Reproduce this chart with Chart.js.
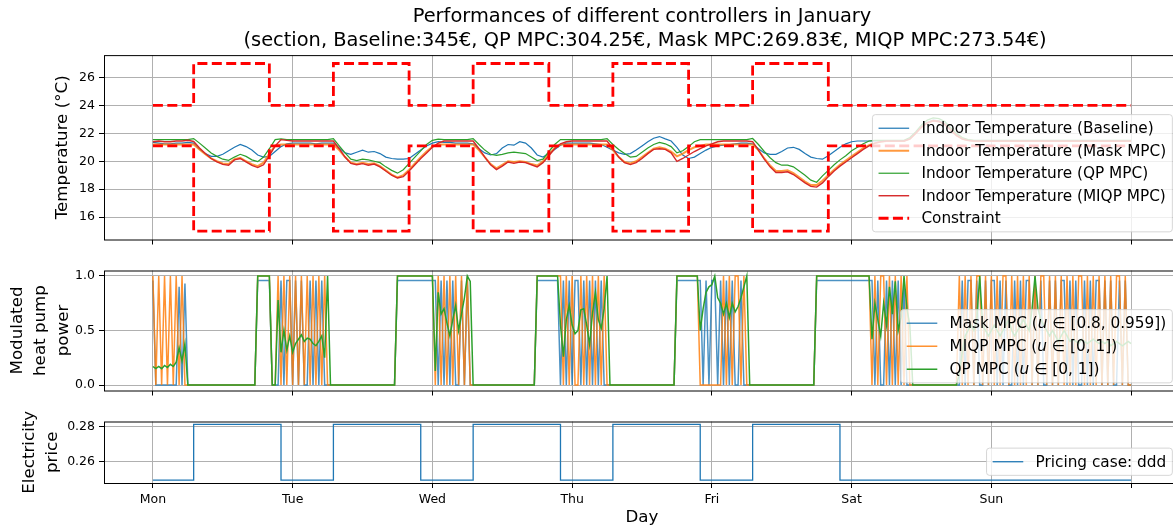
<!DOCTYPE html>
<html>
<head>
<meta charset="utf-8">
<script src="https://cdn.jsdelivr.net/npm/chart.js@4.4.0/dist/chart.umd.min.js"></script>
<style>
  html, body { margin: 0; padding: 0; background: #fff; overflow: hidden; }
  canvas { position: absolute; left: 0; }
</style>
</head>
<body>
<canvas id="tempChart" width="1180" height="251" style="top:0px"></canvas>
<canvas id="powerChart" width="1180" height="143" style="top:259px"></canvas>
<canvas id="priceChart" width="1180" height="121" style="top:410px"></canvas>
<script>
// x axis: hours since Monday 00:00
const dayTicks = [0, 24, 48, 72, 96, 120, 144, 168];
const dayLabels = ["Mon", "Tue", "Wed", "Thu", "Fri", "Sat", "Sun", ""];
const tempTicks = [16, 18, 20, 22, 24, 26];
const powerTicks = [0, 0.5, 1];
const priceTicks = [0.26, 0.28];

const titleLines = [
  "Performances of different controllers in January",
  " (section, Baseline:345€, QP MPC:304.25€, Mask MPC:269.83€, MIQP MPC:273.54€)",
];

// hourly indoor temperatures (h = 0 .. 168)
const baselineTemp = [
  21.35,21.3,21.25,21.25,21.3,21.3,21.35,21.3,
  20.85,20.55,20.35,20.35,20.5,20.75,21.0,21.2,
  21.05,20.8,20.45,20.3,20.35,20.7,21.05,21.25,
  21.3,21.3,21.3,21.3,21.25,21.3,21.3,21.3,
  20.95,20.6,20.5,20.65,20.8,20.65,20.7,20.55,
  20.3,20.2,20.15,20.15,20.2,20.5,20.8,21.1,
  21.3,21.4,21.35,21.35,21.3,21.3,21.3,21.25,
  20.9,20.6,20.45,20.55,20.95,21.2,21.15,21.4,
  21.3,20.95,20.45,20.3,20.55,20.85,21.15,21.3,
  21.3,21.3,21.3,21.3,21.25,21.2,21.0,20.8,
  20.6,20.5,20.55,20.8,21.1,21.4,21.65,21.77,
  21.6,21.45,21.0,20.45,20.2,20.3,20.55,20.8,
  21.0,21.1,21.15,21.2,21.25,21.3,21.3,21.25,
  20.9,20.6,20.5,20.5,20.7,20.95,21.0,20.85,
  20.55,20.3,20.2,20.15,20.4,20.7,21.0,21.25,
  21.4,21.45,21.45,21.45,21.45,21.45,21.45,21.45,
  21.45,21.45,21.6,22.0,22.5,22.8,22.95,22.9,
  22.7,22.3,21.9,21.6,21.5,21.45,21.45,21.45,
  21.45,21.45,21.45,21.45,21.45,21.45,21.45,21.45,
  21.45,21.45,21.45,21.45,21.45,21.45,21.45,21.45,
  21.45,21.45,21.45,21.45,21.45,21.45,21.45,21.45,
  21.45,
];
const maskTemp = [
  21.2,21.2,21.2,21.2,21.2,21.2,21.2,21.2,
  20.85,20.5,20.2,20.0,19.85,19.8,20.15,20.25,
  20.0,19.8,19.65,19.9,20.55,21.1,21.2,21.2,
  21.2,21.2,21.2,21.2,21.2,21.2,21.2,21.2,
  20.8,20.3,19.9,19.8,19.9,19.8,19.85,19.65,
  19.35,19.05,18.85,19.0,19.4,19.85,20.3,20.7,
  21.05,21.2,21.2,21.2,21.2,21.2,21.2,21.2,
  20.8,20.3,19.8,19.5,19.75,20.0,19.95,20.0,
  19.95,19.8,19.7,20.0,20.5,20.95,21.2,21.2,
  21.2,21.2,21.2,21.2,21.2,21.2,21.2,20.8,
  20.3,19.95,19.85,20.0,20.3,20.6,20.9,21.0,
  20.9,20.7,20.35,20.55,20.8,21.0,21.1,21.2,
  21.2,21.2,21.2,21.2,21.2,21.2,21.2,21.2,
  20.8,20.2,19.7,19.3,19.3,19.35,19.15,18.85,
  18.55,18.3,18.3,18.6,19.0,19.4,19.75,20.05,
  20.35,20.65,20.95,21.15,21.3,21.4,21.45,21.45,
  21.45,21.45,21.6,22.0,22.45,22.75,22.9,22.85,
  22.65,22.25,21.85,21.6,21.5,21.45,21.45,21.45,
  21.45,21.45,21.45,21.45,21.45,21.45,21.45,21.45,
  21.45,21.45,21.45,21.45,21.45,21.45,21.45,21.45,
  21.45,21.45,21.45,21.45,21.45,21.45,21.45,21.45,
  21.45,
];
const qpTemp = [
  21.55,21.55,21.55,21.55,21.55,21.55,21.55,21.62,
  21.3,20.95,20.6,20.35,20.15,20.07,20.3,20.5,
  20.35,20.1,19.97,20.3,20.9,21.55,21.6,21.55,
  21.55,21.55,21.55,21.55,21.55,21.55,21.55,21.62,
  21.1,20.6,20.15,20.05,20.15,20.1,20.0,19.9,
  19.6,19.35,19.15,19.4,19.85,20.3,20.75,21.2,
  21.5,21.58,21.55,21.55,21.55,21.55,21.55,21.62,
  21.2,20.8,20.5,20.42,20.5,20.6,20.65,20.6,
  20.55,20.3,20.05,20.15,20.7,21.2,21.55,21.55,
  21.55,21.55,21.55,21.55,21.55,21.55,21.62,21.2,
  20.85,20.55,20.3,20.35,20.65,20.95,21.2,21.35,
  21.25,21.05,20.6,20.75,21.05,21.4,21.55,21.55,
  21.55,21.55,21.55,21.55,21.55,21.55,21.55,21.63,
  21.2,20.7,20.25,19.9,19.72,19.72,19.6,19.3,
  19.0,18.65,18.5,18.95,19.35,19.75,20.1,20.4,
  20.75,21.0,21.25,21.45,21.5,21.5,21.5,21.5,
  21.5,21.5,21.7,22.1,22.6,22.95,23.1,23.05,
  22.85,22.4,22.0,21.7,21.55,21.5,21.5,21.5,
  21.5,21.5,21.5,21.5,21.5,21.5,21.5,21.5,
  21.5,21.5,21.5,21.5,21.5,21.5,21.5,21.5,
  21.5,21.5,21.5,21.5,21.5,21.5,21.5,21.5,
  21.5,
];
const miqpTemp = [
  21.4,21.45,21.4,21.4,21.45,21.45,21.5,21.42,
  20.95,20.55,20.2,19.95,19.78,19.72,20.1,20.2,
  19.95,19.7,19.55,19.75,20.4,21.1,21.55,21.5,
  21.45,21.45,21.45,21.45,21.45,21.45,21.45,21.45,
  20.9,20.3,19.85,19.75,19.83,19.72,19.8,19.6,
  19.3,19.0,18.8,18.9,19.3,19.75,20.2,20.6,
  21.0,21.3,21.45,21.45,21.45,21.45,21.45,21.45,
  20.9,20.3,19.75,19.4,19.65,19.95,19.85,19.95,
  19.9,19.75,19.6,19.9,20.4,20.9,21.25,21.4,
  21.45,21.45,21.45,21.45,21.45,21.45,21.45,20.9,
  20.3,19.9,19.76,19.9,20.2,20.55,20.85,20.9,
  20.85,20.6,20.0,20.2,20.45,20.7,20.9,21.1,
  21.25,21.4,21.45,21.45,21.45,21.45,21.45,21.4,
  20.8,20.15,19.6,19.2,19.2,19.25,19.05,18.75,
  18.45,18.2,18.15,18.45,18.9,19.3,19.65,19.95,
  20.25,20.55,20.85,21.1,21.3,21.4,21.45,21.45,
  21.45,21.45,21.6,22.0,22.45,22.75,22.9,22.85,
  22.65,22.25,21.85,21.6,21.5,21.45,21.45,21.45,
  21.45,21.45,21.45,21.45,21.45,21.45,21.45,21.45,
  21.45,21.45,21.45,21.45,21.45,21.45,21.45,21.45,
  21.45,21.45,21.45,21.45,21.45,21.45,21.45,21.45,
  21.45,
];

// comfort bounds, hourly (one line per day)
const upperBound = [
  24,24,24,24,24,24,24,27,27,27,27,27,27,27,27,27,27,27,27,27,24,24,24,24,
  24,24,24,24,24,24,24,27,27,27,27,27,27,27,27,27,27,27,27,27,24,24,24,24,
  24,24,24,24,24,24,24,27,27,27,27,27,27,27,27,27,27,27,27,27,24,24,24,24,
  24,24,24,24,24,24,24,27,27,27,27,27,27,27,27,27,27,27,27,27,24,24,24,24,
  24,24,24,24,24,24,24,27,27,27,27,27,27,27,27,27,27,27,27,27,24,24,24,24,
  24,24,24,24,24,24,24,24,24,24,24,24,24,24,24,24,24,24,24,24,24,24,24,24,
  24,24,24,24,24,24,24,24,24,24,24,24,24,24,24,24,24,24,24,24,24,24,24,24,
  24,
];
const lowerBound = [
  21.1,21.1,21.1,21.1,21.1,21.1,21.1,15,15,15,15,15,15,15,15,15,15,15,15,15,21.1,21.1,21.1,21.1,
  21.1,21.1,21.1,21.1,21.1,21.1,21.1,15,15,15,15,15,15,15,15,15,15,15,15,15,21.1,21.1,21.1,21.1,
  21.1,21.1,21.1,21.1,21.1,21.1,21.1,15,15,15,15,15,15,15,15,15,15,15,15,15,21.1,21.1,21.1,21.1,
  21.1,21.1,21.1,21.1,21.1,21.1,21.1,15,15,15,15,15,15,15,15,15,15,15,15,15,21.1,21.1,21.1,21.1,
  21.1,21.1,21.1,21.1,21.1,21.1,21.1,15,15,15,15,15,15,15,15,15,15,15,15,15,21.1,21.1,21.1,21.1,
  21.1,21.1,21.1,21.1,21.1,21.1,21.1,21.1,21.1,21.1,21.1,21.1,21.1,21.1,21.1,21.1,21.1,21.1,21.1,21.1,21.1,21.1,21.1,21.1,
  21.1,21.1,21.1,21.1,21.1,21.1,21.1,21.1,21.1,21.1,21.1,21.1,21.1,21.1,21.1,21.1,21.1,21.1,21.1,21.1,21.1,21.1,21.1,21.1,
  21.1,
];

// modulated heat pump power, every 30 min (i = 0 .. 336)
const maskPower = [
  0.959,0,0,0,0,0,0,0,0,0.9,0,0.93,
  0,0,0,0,0,0,0,0, 0,0,0,0,0,0,0,0, 0,0,0,0,0,0,0,0,
  0.959,0.959,0.959,0.959,0.959,0,0,
  0,0.959,0,0.959,0.959,0,0.959,0,0.959, 0,0,0.959,0,0.959,0,0.959,0,0,
  0,0,0,0,0,0,0,0, 0,0,0,0,0,0,0,0, 0,0,0,0,0,0,0,
  0.959,0.959,0.959,0.959,0.959,0.959,0.959,0.959,0.959,0.959,0.959,0.959,0.959,
  0.959,0,0.959,0,0.959,0,0.959,0,0,0.959,0,0.959,0,
  0,0,0,0,0,0,0,0, 0,0,0,0,0,0,0,0, 0,0,0,0,0,0,
  0.959,0.959,0.959,0.959,0.959,0.959,0.959,0.959,
  0,0.959,0,0.959,0,0.959,0.959,0, 0.959,0,0.959,0,0.959,0,0.959,0,
  0,0,0,0,0,0,0,0, 0,0,0,0,0,0,0,0, 0,0,0,0,0,0,0,0,
  0.959,0.959,0.959,0.959,0.959,0.959,0.959,0.959,
  0.959,0,0.959,0,0.959,0.959,0,0.959, 0,0.959,0,0.959,0,0,0.959,0,0,
  0,0,0,0,0,0,0,0, 0,0,0,0,0,0,0,0, 0,0,0,0,0,0,0,
  0.959,0.959,0.959,0.959,0.959,0.959,0.959,0.959,0.959,0.959,
  0.959,0.959,0.959,0.959,0.959,0.959,0.959,0.959,0.959,
  0.959,0,0.959,0,0,0.959,0, 0.959,0,0.959,0,0.959,0,0,
  0,0,0,0,0,0,0,0, 0,0,0,0,0,0,0,0,
  0,0.959,0,0.959,0.959,0,0.959,0,0,0.959,
  0,0.959,0.959,0,0.959,0,0.959,0,0,0.959,
  0,0.959,0,0.959,0.959,0,0.959,0,0.959,0,
  0,0.959,0,0.959,0,0.959,0.959,0,0.959,0,
  0.959,0,0,0.959,0,0.959,0,0.959,0.959,0,
  0.959,0,0.959,0,0,0.959,0,0.959,0,0,
];
const miqpPower = [
  1,0,1,0,1,0,1,0,1,0,1,0,
  0,0,0,0,0,0,0,0, 0,0,0,0,0,0,0,0, 0,0,0,0,0,0,0,0,
  1,1,1,1,1,0,0,
  1,0,1,0,1,0,1,0,1, 0,1,0,1,0,1,0,1,0,
  0,0,0,0,0,0,0,0, 0,0,0,0,0,0,0,0, 0,0,0,0,0,0,0,
  1,1,1,1,1,1,1,1,1,1,1,1,1,
  0,1,0,1,0,1,0,1,0,1,0,1,0,
  0,0,0,0,0,0,0,0, 0,0,0,0,0,0,0,0, 0,0,0,0,0,0,
  1,1,1,1,1,1,1,1,
  1,0,1,0,1,0,0,1, 0,1,0,1,0,1,0,1,
  0,0,0,0,0,0,0,0, 0,0,0,0,0,0,0,0, 0,0,0,0,0,0,0,0,
  1,1,1,1,1,1,1,1,
  0,0,0,0,0,0,0,0, 1,0,1,0,1,1,0,1,0,
  0,0,0,0,0,0,0,0, 0,0,0,0,0,0,0,0, 0,0,0,0,0,0,0,
  1,1,1,1,1,1,1,1,1,1, 1,1,1,1,1,1,1,1,1,
  0,1,0,1,1,0,1, 0,1,0,1,0,1,0,
  0,0,0,0,0,0,0,0, 0,0,0,0,0,0,0,0,
  1,0,1,0,1,0,1,1,0,1,
  0,1,0,1,0,1,1,0,1,0,
  1,0,1,0,1,0,1,0,1,1,
  0,1,0,1,0,1,0,1,0,1,
  0,1,1,0,1,0,1,0,1,0,
  1,0,1,0,1,1,0,1,0,0,
];
const qpPower = [
  0.17,0.15,0.17,0.15,0.18,0.16,0.19,0.17,0.21,0.34,0.22,0.38,
  0,0,0,0,0,0,0,0, 0,0,0,0,0,0,0,0, 0,0,0,0,0,0,0,0,
  1,1,1,1,1,0,0,
  0.78,0.3,0.5,0.32,0.45,0.3,0.38,0.42,0.46, 0.4,0.43,0.42,0.38,0.36,0.4,0.45,0.25,1,
  0,0,0,0,0,0,0,0, 0,0,0,0,0,0,0,0, 0,0,0,0,0,0,0,
  1,1,1,1,1,1,1,1,1,1,1,1,1,
  0.13,0.85,0.65,0.7,0.57,0.45,0.6,0.73,0.5,0.65,0.8,1,0.95,
  0,0,0,0,0,0,0,0, 0,0,0,0,0,0,0,0, 0,0,0,0,0,0,
  1,1,1,1,1,1,1,1,
  0.55,0.26,0.6,0.73,0.55,0.47,0.5,0.69, 0.7,0.55,0.37,0.66,0.85,0.6,0.52,0.7,
  1,0,0,0,0,0,0,0, 0,0,0,0,0,0,0,0, 0,0,0,0,0,0,0,0,
  1,1,1,1,1,1,1,1,
  0.5,0.7,0.85,0.9,0.92,1,0.8,0.75, 0.65,0.75,0.62,0.75,0.67,0.72,0.8,0.9,1,
  0,0,0,0,0,0,0,0, 0,0,0,0,0,0,0,0, 0,0,0,0,0,0,0,
  1,1,1,1,1,1,1,1,1,1, 1,1,1,1,1,1,1,1,1,
  0.42,0.75,0.6,0.45,0.75,0.55,0.9, 0.65,0.95,0.5,0.62,1,0.7,0.55,
  0,0,0,0,0,0,0,0, 0,0,0,0,0,0,0,0,
  0.1,0.3,0.45,0.5,0.55,0.5,0.6,1,0.55,0.5,
  0.45,0.5,0.55,0.5,0.45,0.5,0.55,0.6,0.5,0.45,
  0.5,0.55,0.6,0.55,0.5,0.7,1,0.7,0.6,0.55,
  0.5,0.45,0.5,0.45,0.4,0.45,0.5,0.45,0.4,0.42,
  0.4,0.38,0.42,0.4,0.38,0.4,0.42,0.4,0.38,0.4,
  0.38,0.4,0.36,0.38,0.4,0.38,0.36,0.38,0.4,0.38,
];

// electricity price, hourly
const price = [
  0.2497,0.2497,0.2497,0.2497,0.2497,0.2497,0.2497,0.2813,0.2813,0.2813,0.2813,0.2813,0.2813,0.2813,0.2813,0.2813,0.2813,0.2813,0.2813,0.2813,0.2813,0.2813,0.2497,0.2497,
  0.2497,0.2497,0.2497,0.2497,0.2497,0.2497,0.2497,0.2813,0.2813,0.2813,0.2813,0.2813,0.2813,0.2813,0.2813,0.2813,0.2813,0.2813,0.2813,0.2813,0.2813,0.2813,0.2497,0.2497,
  0.2497,0.2497,0.2497,0.2497,0.2497,0.2497,0.2497,0.2813,0.2813,0.2813,0.2813,0.2813,0.2813,0.2813,0.2813,0.2813,0.2813,0.2813,0.2813,0.2813,0.2813,0.2813,0.2497,0.2497,
  0.2497,0.2497,0.2497,0.2497,0.2497,0.2497,0.2497,0.2813,0.2813,0.2813,0.2813,0.2813,0.2813,0.2813,0.2813,0.2813,0.2813,0.2813,0.2813,0.2813,0.2813,0.2813,0.2497,0.2497,
  0.2497,0.2497,0.2497,0.2497,0.2497,0.2497,0.2497,0.2813,0.2813,0.2813,0.2813,0.2813,0.2813,0.2813,0.2813,0.2813,0.2813,0.2813,0.2813,0.2813,0.2813,0.2813,0.2497,0.2497,
  0.2497,0.2497,0.2497,0.2497,0.2497,0.2497,0.2497,0.2497,0.2497,0.2497,0.2497,0.2497,0.2497,0.2497,0.2497,0.2497,0.2497,0.2497,0.2497,0.2497,0.2497,0.2497,0.2497,0.2497,
  0.2497,0.2497,0.2497,0.2497,0.2497,0.2497,0.2497,0.2497,0.2497,0.2497,0.2497,0.2497,0.2497,0.2497,0.2497,0.2497,0.2497,0.2497,0.2497,0.2497,0.2497,0.2497,0.2497,0.2497,
  0.2497,
];

Chart.defaults.font.family = "'DejaVu Sans', sans-serif";
Chart.defaults.color = "#000";

const hourly = arr => arr.map((v, i) => ({ x: i, y: v }));
const halfHourly = arr => arr.map((v, i) => ({ x: i / 2, y: v }));

// axes box + matplotlib-like legend in the lower right corner
const frameAndLegend = {
  id: "boxLegend",
  afterDatasetsDraw(chart, args, opts) {
    const { ctx, chartArea: a } = chart;
    ctx.save();
    ctx.strokeStyle = "#000";
    ctx.lineWidth = 1;
    ctx.strokeRect(a.left + 0.5, a.top + 0.5, a.right - a.left, a.bottom - a.top);

    const fs = 15.3;
    const items = chart.data.datasets.filter(d => d.label);
    const pad = 0.4 * fs, handle = 2 * fs, gap = 0.8 * fs, textH = 15;
    const pitch = opts.rowPitch || 22.5;
    const parts = label => label.split(/(\bu\b)/).filter(Boolean).map(t => ({ t, italic: t === "u" }));
    const fontOf = italic => (italic ? "italic " : "") + fs + "px 'DejaVu Sans'";
    const widthOf = label => parts(label).reduce((w, p) => {
      ctx.font = fontOf(p.italic);
      return w + ctx.measureText(p.t).width;
    }, 0);
    const textW = Math.max(...items.map(d => widthOf(d.label)));
    const w = 2 * pad + handle + gap + textW;
    const h = 2 * pad + items.length * textH + (items.length - 1) * (pitch - textH);
    const x0 = a.right - 0.5 * fs - w;
    const y0 = a.bottom - 0.5 * fs - h;

    ctx.beginPath();
    ctx.roundRect(x0, y0, w, h, 3);
    ctx.fillStyle = "rgba(255,255,255,0.8)";
    ctx.fill();
    ctx.strokeStyle = "rgba(204,204,204,0.8)";
    ctx.stroke();

    items.forEach((d, i) => {
      const cy = y0 + pad + textH / 2 + i * pitch;
      ctx.beginPath();
      ctx.setLineDash(d.borderDash || []);
      ctx.strokeStyle = d.borderColor;
      ctx.lineWidth = d.borderWidth;
      ctx.moveTo(x0 + pad, cy);
      ctx.lineTo(x0 + pad + handle, cy);
      ctx.stroke();
      ctx.setLineDash([]);
      let tx = x0 + pad + handle + gap;
      ctx.fillStyle = "#000";
      ctx.textBaseline = "middle";
      ctx.textAlign = "left";
      parts(d.label).forEach(p => {
        ctx.font = fontOf(p.italic);
        ctx.fillText(p.t, tx, cy + 1);
        tx += ctx.measureText(p.t).width;
      });
    });
    ctx.restore();
  },
};

const gridStyle = { color: "#b0b0b0", lineWidth: 1, tickColor: "#000", tickLength: 5 };

function xAxis(showLabels, title) {
  return {
    type: "linear",
    min: -8.4,
    max: 176.4,
    afterBuildTicks: s => { s.ticks = dayTicks.map(v => ({ value: v })); },
    afterFit: s => { s.height = title ? 48 : 7; },
    grid: gridStyle,
    border: { display: false },
    ticks: {
      font: { size: 12.5 },
      padding: 4,
      maxRotation: 0,
      autoSkip: false,
      callback: (v, i) => (showLabels ? dayLabels[i] : ""),
    },
    title: {
      display: !!title,
      text: title || "",
      font: { size: 16.7 },
      padding: { top: 0, bottom: 3 },
    },
  };
}

function yAxis(min, max, ticks, digits, title, titlePad) {
  return {
    type: "linear",
    min: min,
    max: max,
    afterBuildTicks: s => { s.ticks = ticks.map(v => ({ value: v })); },
    afterFit: s => { s.width = 104; },
    grid: gridStyle,
    border: { display: false },
    ticks: { font: { size: 12.5 }, padding: 4, callback: v => v.toFixed(digits) },
    title: {
      display: true,
      text: title,
      font: { size: 16.7, lineHeight: 1.38 },
      padding: { top: titlePad, bottom: 0 },
    },
  };
}

function baseOptions(padTop, legendPitch) {
  return {
    responsive: false,
    animation: false,
    devicePixelRatio: 1,
    layout: { autoPadding: false, padding: { top: padTop, left: 0, right: 0, bottom: 0 } },
    elements: { point: { radius: 0 }, line: { tension: 0, fill: false } },
    plugins: {
      legend: { display: false },
      tooltip: { enabled: false },
      boxLegend: { rowPitch: legendPitch },
    },
  };
}

// temperature panel
const tempOptions = baseOptions(0, 22.5);
tempOptions.plugins.title = {
  display: true,
  fullSize: false,
  text: titleLines,
  color: "#000",
  font: { size: 19.4, weight: "normal", lineHeight: 1.24 },
  padding: { top: 5, bottom: 2 },
};
tempOptions.scales = {
  x: xAxis(false),
  y: yAxis(14.4, 27.6, tempTicks, 0, "Temperature (°C)", 51),
};

new Chart(document.getElementById("tempChart"), {
  type: "line",
  data: {
    datasets: [
      { label: "Indoor Temperature (Baseline)", data: hourly(baselineTemp), borderColor: "#1f77b4", borderWidth: 1.2, order: 6 },
      { label: "Indoor Temperature (Mask MPC)", data: hourly(maskTemp), borderColor: "rgba(255,127,14,0.8)", borderWidth: 2, order: 5 },
      { label: "Indoor Temperature (QP MPC)", data: hourly(qpTemp), borderColor: "#2ca02c", borderWidth: 1.2, order: 4 },
      { label: "Indoor Temperature (MIQP MPC)", data: hourly(miqpTemp), borderColor: "#d62728", borderWidth: 1.4, order: 3 },
      { label: "Constraint", data: hourly(upperBound), borderColor: "#ff0000", borderWidth: 2.8, borderDash: [10, 4.4], stepped: "before", order: 2 },
      { label: "", data: hourly(lowerBound), borderColor: "#ff0000", borderWidth: 2.8, borderDash: [10, 4.4], stepped: "before", order: 1 },
    ],
  },
  options: tempOptions,
  plugins: [frameAndLegend],
});

// power panel
const powerOptions = baseOptions(10, 23);
powerOptions.scales = {
  x: xAxis(false),
  y: yAxis(-0.05, 1.05, powerTicks, 1, ["Modulated", "heat pump", "power"], 6.5),
};

new Chart(document.getElementById("powerChart"), {
  type: "line",
  data: {
    datasets: [
      { label: "Mask MPC (u ∈ [0.8, 0.959])", data: halfHourly(maskPower), borderColor: "rgba(31,119,180,0.8)", borderWidth: 1.5, order: 3 },
      { label: "MIQP MPC (u ∈ [0, 1])", data: halfHourly(miqpPower), borderColor: "rgba(255,127,14,0.85)", borderWidth: 1.5, order: 2 },
      { label: "QP MPC (u ∈ [0, 1])", data: halfHourly(qpPower), borderColor: "#2ca02c", borderWidth: 1.5, order: 1 },
    ],
  },
  options: powerOptions,
  plugins: [frameAndLegend],
});

// price panel
const priceOptions = baseOptions(10, 22.5);
priceOptions.scales = {
  x: xAxis(true, "Day"),
  y: yAxis(0.2481, 0.2829, priceTicks, 2, ["Electricity", "price"], 18.5),
};

new Chart(document.getElementById("priceChart"), {
  type: "line",
  data: {
    datasets: [
      { label: "Pricing case: ddd", data: hourly(price), borderColor: "#1f77b4", borderWidth: 1.3, stepped: "before" },
    ],
  },
  options: priceOptions,
  plugins: [frameAndLegend],
});
</script>
</body>
</html>
